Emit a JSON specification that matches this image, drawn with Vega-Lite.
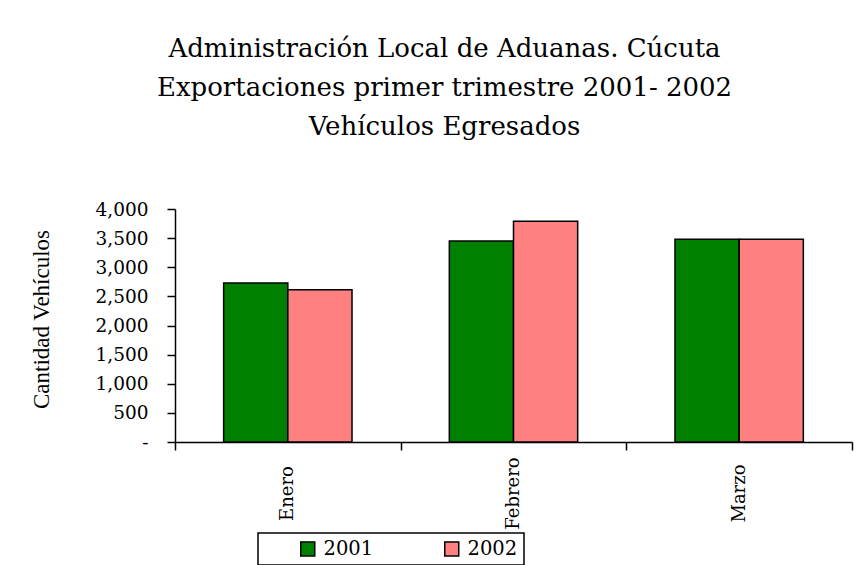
{
  "$schema": "https://vega.github.io/schema/vega-lite/v6.json",
  "autosize": "none",
  "width": 677,
  "height": 233,
  "padding": {"left": 175, "top": 209, "right": 8, "bottom": 123},
  "background": "white",
  "title": {
    "text": ["Administración Local de Aduanas. Cúcuta", "Exportaciones primer trimestre 2001- 2002", "Vehículos Egresados"],
    "font": "DejaVu Serif",
    "fontSize": 26,
    "fontWeight": "normal",
    "color": "black",
    "lineHeight": 39,
    "anchor": "middle",
    "dx": -69,
    "offset": 60
  },
  "data": {
    "values": [
      {"mes": "Enero", "anio": "2001", "vehiculos": 2730},
      {"mes": "Enero", "anio": "2002", "vehiculos": 2615},
      {"mes": "Febrero", "anio": "2001", "vehiculos": 3450},
      {"mes": "Febrero", "anio": "2002", "vehiculos": 3790},
      {"mes": "Marzo", "anio": "2001", "vehiculos": 3480},
      {"mes": "Marzo", "anio": "2002", "vehiculos": 3480}
    ]
  },
  "mark": {"type": "bar", "stroke": "black", "strokeWidth": 1.5},
  "encoding": {
    "x": {
      "field": "mes",
      "type": "nominal",
      "sort": ["Enero", "Febrero", "Marzo"],
      "scale": {"paddingInner": 0, "paddingOuter": 0},
      "axis": {
        "title": null,
        "domainColor": "black",
        "domainWidth": 1.5,
        "tickColor": "black",
        "tickWidth": 1.5,
        "tickSize": 8,
        "tickBand": "extent",
        "labelAngle": -90,
        "labelAlign": "center",
        "labelBaseline": "middle",
        "labelPadding": 43,
        "labelFont": "DejaVu Serif",
        "labelFontSize": 18,
        "labelColor": "black",
        "labelOverlap": false,
        "labelBound": false
      }
    },
    "xOffset": {
      "field": "anio",
      "type": "nominal",
      "scale": {"paddingInner": 0, "paddingOuter": 0.758}
    },
    "y": {
      "field": "vehiculos",
      "type": "quantitative",
      "scale": {"domain": [0, 4000], "nice": false},
      "axis": {
        "title": "Cantidad Vehículos",
        "titleFont": "Liberation Serif",
        "titleFontSize": 23,
        "titleFontWeight": "normal",
        "titleColor": "black",
        "titlePadding": 42,
        "titleY": 110,
        "values": [0, 500, 1000, 1500, 2000, 2500, 3000, 3500, 4000],
        "labelExpr": "datum.value == 0 ? '-' : format(datum.value, ',')",
        "labelFont": "DejaVu Serif",
        "labelFontSize": 18.5,
        "labelColor": "black",
        "labelPadding": 19,
        "grid": false,
        "domainColor": "black",
        "domainWidth": 1.5,
        "tickColor": "black",
        "tickWidth": 1.5,
        "tickSize": 8
      }
    },
    "fill": {
      "field": "anio",
      "type": "nominal",
      "scale": {"domain": ["2001", "2002"], "range": ["#008000", "#FF8080"]},
      "legend": {
        "title": null,
        "orient": "none",
        "legendX": 83,
        "legendY": 324,
        "direction": "horizontal",
        "symbolType": "square",
        "symbolSize": 196,
        "symbolStrokeColor": "black",
        "symbolStrokeWidth": 1.5,
        "symbolOffset": 34,
        "labelFont": "DejaVu Serif",
        "labelFontSize": 19.5,
        "labelColor": "black",
        "labelOffset": 6,
        "columnPadding": 34,
        "padding": 6,
        "strokeColor": "black",
        "encode": {
          "legend": {"update": {"strokeWidth": {"value": 1.5}}},
          "entries": {"update": {"width": {"signal": "datum.index == 1 ? 131 : 60"}}}
        }
      }
    }
  },
  "config": {"view": {"stroke": null}}
}
